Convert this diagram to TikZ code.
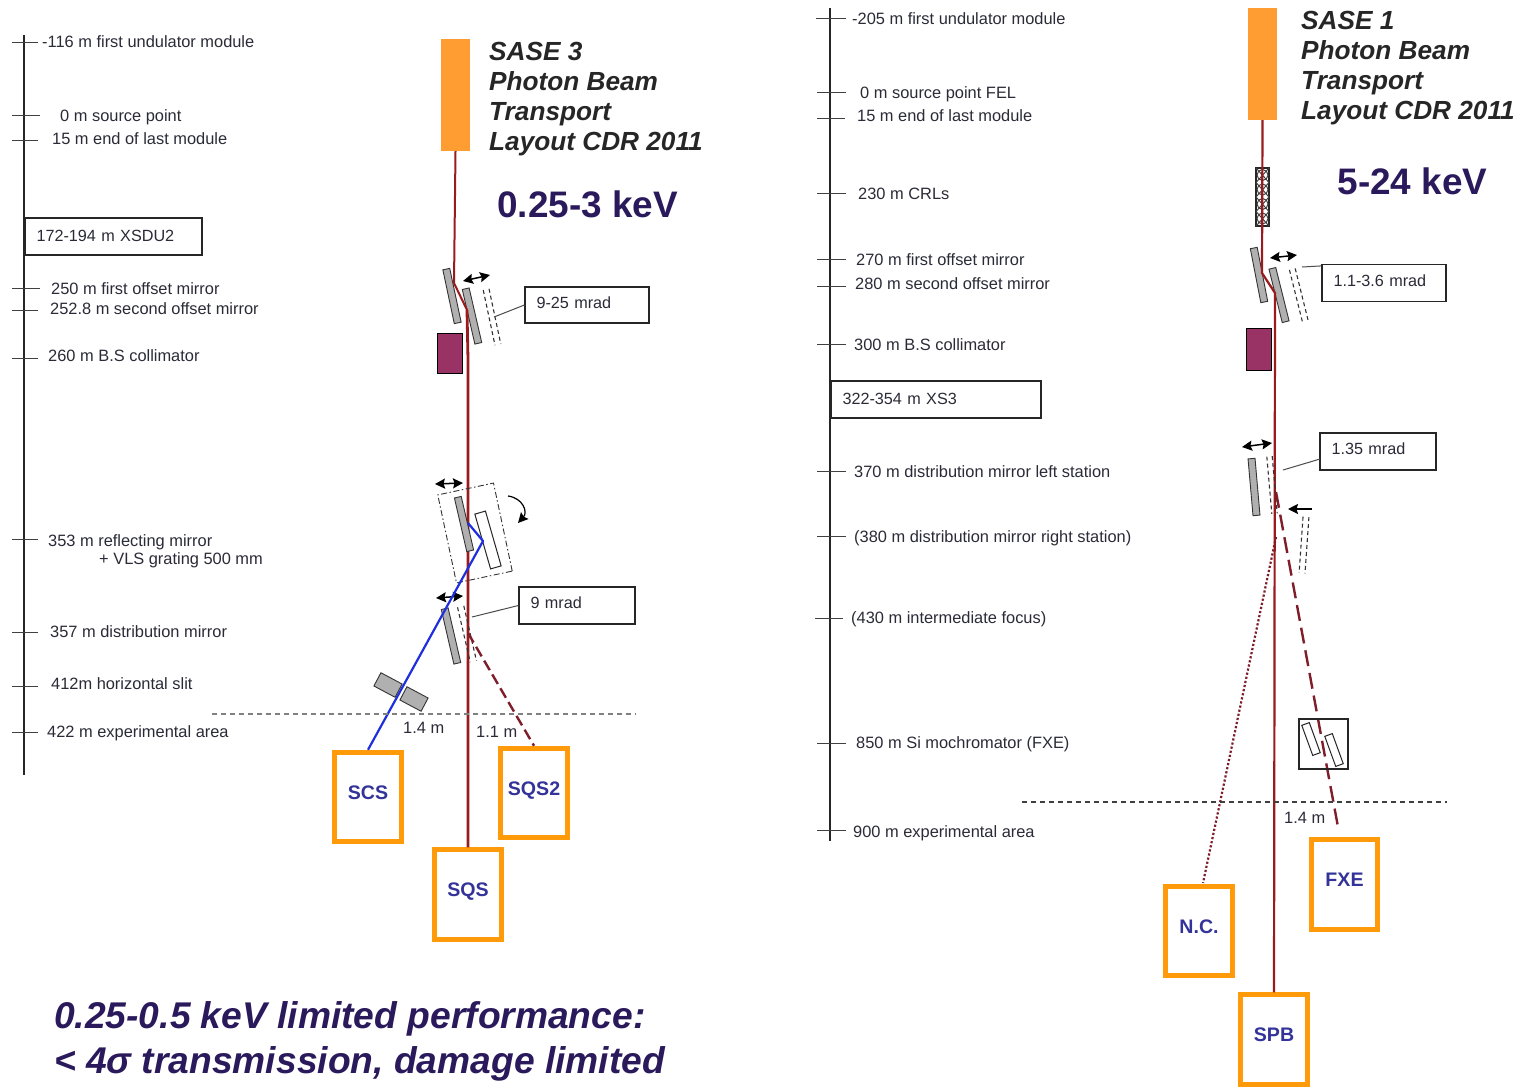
\documentclass[tikz,border=0pt]{standalone}
\usepackage{fontspec}
\setmainfont{Liberation Sans}
\usetikzlibrary{arrows.meta}
\definecolor{beamred}{HTML}{9A1B1E}
\definecolor{beamdark}{HTML}{7F1D2A}
\definecolor{orangebox}{HTML}{FF9A0A}
\definecolor{undul}{HTML}{FF9D33}
\definecolor{collim}{HTML}{993366}
\definecolor{mirrorgrey}{HTML}{B0B0B0}
\definecolor{headtext}{HTML}{2A1A5C}
\definecolor{stationtext}{HTML}{33339A}
\definecolor{labeltext}{HTML}{2B2B38}
\definecolor{bluebeamc}{HTML}{1F2FE0}
\tikzset{
  lab/.style={anchor=west,inner sep=0pt,text height=11pt,text depth=0pt,font=\fontsize{16.4}{16.4}\selectfont,text=labeltext},
  tick/.style={line width=0.9pt,draw=black!75},
  axisline/.style={line width=1.1pt,draw=black!85},
  title/.style={anchor=north west,inner sep=0pt,align=left,font=\fontsize{26.2}{30}\selectfont\bfseries\itshape,text=black!85},
  energy/.style={anchor=center,inner sep=0pt,font=\fontsize{36.9}{36.9}\selectfont\bfseries,text=headtext},
  note/.style={anchor=west,inner sep=0pt,font=\fontsize{37.2}{37.2}\selectfont\bfseries\itshape,text=headtext},
  callout/.style={draw=black!85,line width=1.2pt,fill=white,inner xsep=11.5pt,inner ysep=0pt,align=left,text height=11pt,text depth=5pt,font=\fontsize{16.2}{16.2}\selectfont,text=labeltext},
  station/.style={draw=orangebox,line width=5pt,fill=white,minimum width=66.5pt,minimum height=89.5pt,inner sep=0pt,text height=14pt,text depth=10pt,font=\fontsize{19.6}{19.6}\selectfont\bfseries,text=stationtext},
  undulator/.style={fill=undul,draw=none,minimum width=29pt,minimum height=112pt,inner sep=0pt},
  collimator/.style={fill=collim,draw=black,line width=1pt,minimum width=25pt,inner sep=0pt},
  mirrorbar/.style={fill=mirrorgrey,draw=black!80,line width=0.9pt,inner sep=0pt,minimum height=7pt},
  whitebar/.style={fill=white,draw=black!85,line width=1pt,inner sep=0pt},
  ghostbar/.style={draw=none,inner sep=0pt,minimum height=5.5pt},
  dashline/.style={draw=black!80,line width=1.1pt,dash pattern=on 4pt off 3pt},
  beam/.style={draw=beamred,line width=2pt,line join=round},
  beamthick/.style={draw=beamred,line width=2.8pt},
  beamdash/.style={draw=beamdark,line width=2.4pt,dash pattern=on 11pt off 5pt},
  beamdot/.style={draw=beamdark,line width=2.2pt,dash pattern=on 2.2pt off 2pt},
  bluebeam/.style={draw=bluebeamc,line width=2.2pt,line join=round},
  motion/.style={line width=1.5pt,draw=black,{Stealth[length=10pt,width=10pt,inset=1.5pt]}-{Stealth[length=10pt,width=10pt,inset=1.5pt]}},
  leader/.style={line width=1pt,draw=black!70},
  floorline/.style={draw=black!50,line width=1.1pt,dash pattern=on 5pt off 4pt}
}
\newcommand{\dashbar}[6]{%
  \node[ghostbar,minimum width=#4pt,minimum height=#5pt,rotate=#6] (#1) at (#2,#3) {};
  \draw[dashline] (#1.north west) -- (#1.north east) (#1.south west) -- (#1.south east);
}
\begin{document}
\begin{tikzpicture}[x=1pt,y=-1pt]
\useasboundingbox (0,0) rectangle (1522,1087);
\fill[white] (0,0) rectangle (1522,1087);

%% ---------- SASE 3 ----------
\coordinate (la1) at (24,35); \coordinate (la2) at (24,775);
\draw[axisline] (la1) -- (la2);
\foreach \n/\y/\a/\b in {1/42/12/38,2/115/12/40,3/140/12/38,4/288/12/40,5/310/12/38,6/358/12/38,7/539/12/38,8/632/12/38,9/686/12/38,10/732/12/38}{
  \coordinate (lt\n a) at (\a,\y); \coordinate (lt\n b) at (\b,\y);
  \draw[tick] (lt\n a) -- (lt\n b);
}
\node[lab] (l1) at (42,42) {-116 m first undulator module};
\node[lab] (l2) at (60,116) {0 m source point};
\node[lab] (l3) at (52,139) {15 m end of last module};
\node[lab] (l4) at (51,289) {250 m first offset mirror};
\node[lab] (l5) at (50,309) {252.8 m second offset mirror};
\node[lab] (l6) at (48,356) {260 m B.S collimator};
\node[lab] (l7) at (48,541) {353 m reflecting mirror};
\node[lab] (l7b) at (99,559) {+ VLS grating 500 mm};
\node[lab] (l8) at (50,632) {357 m distribution mirror};
\node[lab] (l9) at (51,684) {412m horizontal slit};
\node[lab] (l10) at (47,732) {422 m experimental area};
\node[callout,text depth=2pt,minimum width=177pt,minimum height=37pt,text width=154pt] (xsdu) at (113.5,236.5) {172-194 m XSDU2};

\node[undulator] (und3) at (455.5,95) {};
\node[title] (t3) at (489,42) {SASE 3\\Photon Beam\\Transport\\Layout CDR 2011};
\node[energy] (e3) at (587.5,204) {0.25-3 keV};

\node[collimator,minimum height=40pt] (col3) at (449.5,353) {};
\node[mirrorbar,minimum width=55pt,rotate=-78] (m31) at (452,296) {};
\node[mirrorbar,minimum width=56pt,rotate=-77] (m32) at (472,316) {};
\dashbar{m33}{492}{317}{56}{5.5}{-78}
\node[station] (SCS) at (368,797) {SCS};
\node[station] (SQS) at (468,894.5) {SQS};
\node[station] (SQS2) at (534,793) {SQS2};

\coordinate (b31) at (454,283); \coordinate (b32) at (467,310);
\draw[beam] (und3.south) -- (b31) -- (b32);
\draw[beamthick] (b32) -- (468,360) -- (SQS.north);

\coordinate (a1l) at (463,281); \coordinate (a1r) at (490,275);
\draw[motion] (a1l) -- (a1r);
\node[callout,minimum width=124pt,minimum height=36pt,text width=101pt] (c925) at (587,305) {9-25 mrad};
\coordinate (c925e) at (494,317);
\draw[leader] (c925.west) -- (c925e);

\node[draw=black!80,line width=0.9pt,dash pattern=on 6pt off 2.5pt on 1.5pt off 2.5pt,minimum width=90pt,minimum height=57pt,inner sep=0pt,rotate=-78] (frame) at (475,533) {};
\node[mirrorbar,minimum width=55pt,rotate=-77] (m34) at (464,524) {};
\node[whitebar,minimum width=57pt,minimum height=11pt,rotate=-74] (m35) at (488,540) {};
\coordinate (a2l) at (435,484); \coordinate (a2r) at (463,483);
\draw[motion] (a2l) -- (a2r);
\coordinate (rot1) at (508,496); \coordinate (rot2) at (518,523);
\draw[line width=1.2pt,-{Stealth[length=10pt,width=10pt,inset=1.5pt]}] (rot1) .. controls (523,498) and (528,512) .. (rot2);

\coordinate (a3l) at (436,598); \coordinate (a3r) at (463,596);
\draw[motion] (a3l) -- (a3r);
\node[mirrorbar,minimum width=56pt,rotate=-77] (m36) at (451,636) {};
\dashbar{m37}{467}{634}{56}{6}{-77}
\node[callout,minimum width=116pt,minimum height=37pt,text width=93pt] (c9) at (577,605.5) {9 mrad};
\coordinate (c9e) at (472,617);
\draw[leader] (c9.west) -- (c9e);

\coordinate (bl1) at (468,523); \coordinate (bl2) at (483,541);
\draw[bluebeam] (bl1) -- (bl2) -- (SCS.north);

\coordinate (bd1) at (468,633);
\draw[beamdash] (bd1) -- (SQS2.north);

\node[fill=mirrorgrey,draw=black!80,line width=0.9pt,minimum width=24pt,minimum height=15pt,inner sep=0pt,rotate=-28] (s1) at (388,685) {};
\node[fill=mirrorgrey,draw=black!80,line width=0.9pt,minimum width=24pt,minimum height=15pt,inner sep=0pt,rotate=-28] (s2) at (414,699) {};

\coordinate (fl1) at (212,714); \coordinate (fl2) at (636,714);
\draw[floorline] (fl1) -- (fl2);
\node[lab] (d1) at (403,728) {1.4 m};
\node[lab] (d2) at (476,732) {1.1 m};

\node[note] (n1) at (54,1019) {0.25-0.5 keV limited performance:};
\node[note] (n2) at (54,1064) {< 4σ transmission, damage limited};

%% ---------- SASE 1 ----------
\coordinate (ra1) at (830,8); \coordinate (ra2) at (830,841);
\draw[axisline] (ra1) -- (ra2);
\foreach \n/\y/\a/\b in {1/18/816/846,2/92/817/846,3/118/817/845,4/193/817/846,5/259/817/846,6/286/817/846,7/344/817/846,8/471/817/846,9/536/817/846,10/618/815/843,11/743/817/846,12/830/817/846}{
  \coordinate (rt\n a) at (\a,\y); \coordinate (rt\n b) at (\b,\y);
  \draw[tick] (rt\n a) -- (rt\n b);
}
\node[lab] (r1) at (852,19) {-205 m first undulator module};
\node[lab] (r2) at (860,93) {0 m source point FEL};
\node[lab] (r3) at (857,116) {15 m end of last module};
\node[lab] (r4) at (858,194) {230 m CRLs};
\node[lab] (r5) at (856,260) {270 m first offset mirror};
\node[lab] (r6) at (855,284) {280 m second offset mirror};
\node[lab] (r7) at (854,345) {300 m B.S collimator};
\node[lab] (r8) at (854,472) {370 m distribution mirror left station};
\node[lab] (r9) at (854,537) {(380 m distribution mirror right station)};
\node[lab] (r10) at (851,618) {(430 m intermediate focus)};
\node[lab] (r11) at (856,743) {850 m Si mochromator (FXE)};
\node[lab] (r12) at (853,832) {900 m experimental area};
\node[callout,text depth=2pt,minimum width=210pt,minimum height=37pt,text width=187pt] (xs3) at (936,399.5) {322-354 m XS3};

\node[undulator] (und1) at (1262.5,64) {};
\node[title] (t1) at (1301,11) {SASE 1\\Photon Beam\\Transport\\Layout CDR 2011};
\node[energy] (e1) at (1412.5,181) {5-24 keV};

\node[draw=black!85,line width=1.2pt,minimum width=13pt,minimum height=58pt,inner sep=0pt] (crl) at (1262.5,197) {};
\foreach \y in {175,189.5,204,218.5}{
  \draw[black!75,line width=1pt] (1262.5,\y) circle (5.5pt);
}
\draw[black!75,line width=1pt] (1256,168) -- (1269,182.5) -- (1256,197) -- (1269,211.5) -- (1256,226);
\draw[black!75,line width=1pt] (1269,168) -- (1256,182.5) -- (1269,197) -- (1256,211.5) -- (1269,226);

\node[collimator,minimum height=42pt] (col1) at (1258.5,349) {};
\node[mirrorbar,minimum width=55pt,rotate=-79] (m11) at (1259,275) {};
\node[mirrorbar,minimum width=55pt,rotate=-76] (m12) at (1279,295) {};
\dashbar{m13}{1299}{296}{55}{5.5}{-76}
\node[station] (FXE) at (1344.5,884.5) {FXE};
\node[station] (NC) at (1199,931) {N.C.};
\node[station] (SPB) at (1274,1039.5) {SPB};

\coordinate (b11) at (1262,273); \coordinate (b12) at (1275,293);
\draw[beam,line width=2.2pt] (und1.south) -- (b11) -- (b12) -- (SPB.north);

\coordinate (a4l) at (1270,258); \coordinate (a4r) at (1297,255);
\draw[motion] (a4l) -- (a4r);
\node[callout,minimum width=124pt,minimum height=37pt,text width=101pt] (c11) at (1384,283) {1.1-3.6 mrad};
\coordinate (c11e) at (1302,267);
\draw[leader] (c11.north west) ++(0,2) -- (c11e);

\coordinate (a5l) at (1242,447); \coordinate (a5r) at (1272,443);
\draw[motion] (a5l) -- (a5r);
\node[mirrorbar,minimum width=57pt,rotate=-85] (m14) at (1254,487) {};
\dashbar{m15}{1272}{485}{57}{5}{-85}
\dashbar{m16}{1304}{545}{56}{5.5}{-94}
\coordinate (a6r) at (1312,509); \coordinate (a6l) at (1288,509);
\draw[line width=1.5pt,-{Stealth[length=10pt,width=10pt,inset=1.5pt]}] (a6r) -- (a6l);
\node[callout,minimum width=116pt,minimum height=37pt,text width=93pt] (c135) at (1378,451.5) {1.35 mrad};
\coordinate (c135e) at (1283,470);
\coordinate (c135s) at (1320,459);
\draw[leader] (c135s) -- (c135e);

\coordinate (bd2a) at (1276,492); \coordinate (bd2b) at (1338,827);
\draw[beamdash,dash pattern=on 16pt off 7pt] (bd2a) -- (bd2b);
\coordinate (bd3a) at (1276,537); \coordinate (bd3b) at (1203,883);
\draw[beamdot] (bd3a) -- (bd3b);

\node[draw=black!85,line width=1.2pt,fill=none,minimum width=49pt,minimum height=50pt,inner sep=0pt] (mono) at (1323.5,744) {};
\node[whitebar,minimum width=32pt,minimum height=8pt,rotate=-70] (s11) at (1311,739) {};
\node[whitebar,minimum width=32pt,minimum height=8pt,rotate=-70] (s12) at (1334,750) {};

\coordinate (fr1) at (1022,802); \coordinate (fr2) at (1447,802);
\draw[floorline,draw=black!75] (fr1) -- (fr2);
\node[lab] (d3) at (1284,818) {1.4 m};
\end{tikzpicture}
\end{document}
